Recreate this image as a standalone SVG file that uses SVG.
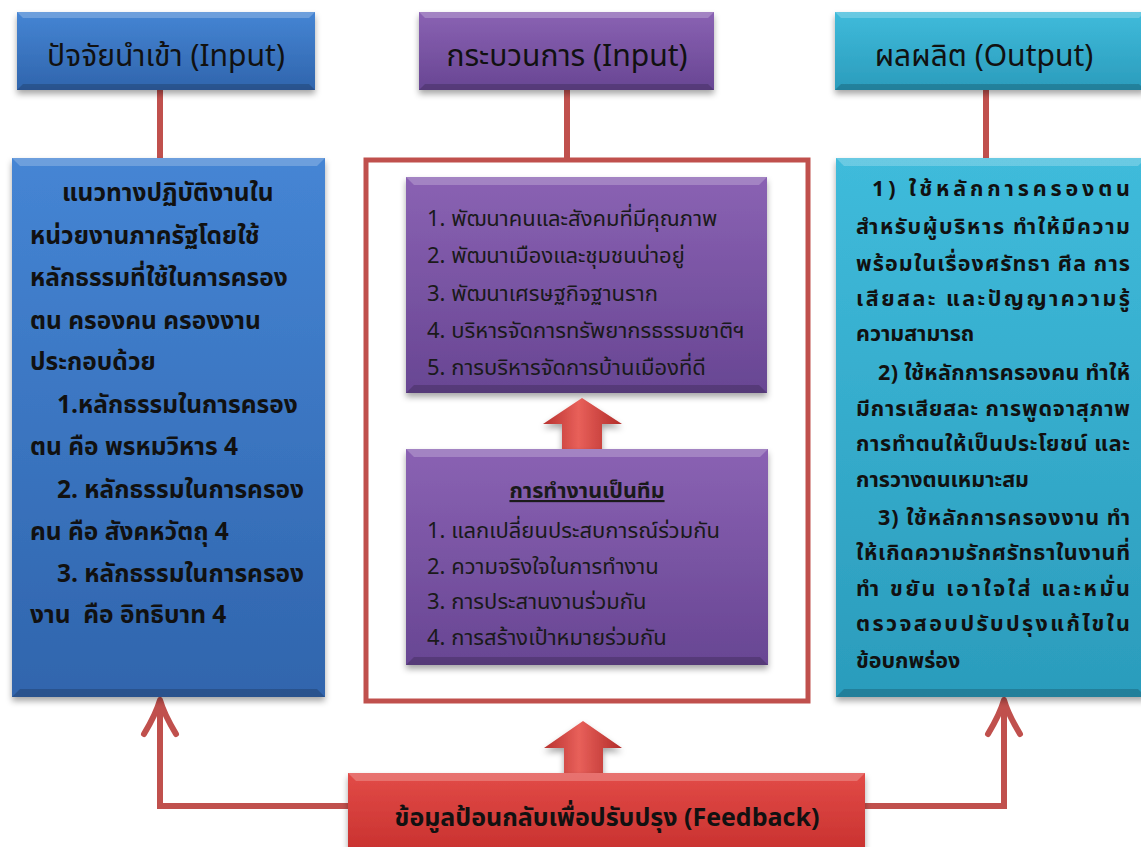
<svg xmlns="http://www.w3.org/2000/svg" width="1141" height="847" viewBox="0 0 1141 847">
<defs>
<linearGradient id="gBlue" x1="0" y1="0" x2="0" y2="1"><stop offset="0" stop-color="#4585d4"/><stop offset="1" stop-color="#3065ad"/></linearGradient>
<linearGradient id="gPurple" x1="0" y1="0" x2="0" y2="1"><stop offset="0" stop-color="#8a62b3"/><stop offset="1" stop-color="#684693"/></linearGradient>
<linearGradient id="gCyan" x1="0" y1="0" x2="0" y2="1"><stop offset="0" stop-color="#3fbbdb"/><stop offset="1" stop-color="#2b9cbc"/></linearGradient>
<linearGradient id="gRed" x1="0" y1="0" x2="0" y2="1"><stop offset="0" stop-color="#e24b47"/><stop offset="1" stop-color="#c8312f"/></linearGradient>
<linearGradient id="gArrow" x1="0" y1="0" x2="1" y2="0"><stop offset="0" stop-color="#b8322f"/><stop offset="0.45" stop-color="#e8605a"/><stop offset="1" stop-color="#b22c29"/></linearGradient>
<filter id="sh" x="-10%" y="-10%" width="120%" height="130%"><feDropShadow dx="0" dy="4" stdDeviation="3" flood-color="#000" flood-opacity="0.35"/></filter>
<marker id="openArrow" markerUnits="userSpaceOnUse" markerWidth="44" markerHeight="44" viewBox="-40 -22 44 44" refX="0" refY="0" orient="auto">
<path d="M-34,-16 Q-14,-4 0,0 Q-14,4 -34,16" fill="none" stroke="#c0504d" stroke-width="6" stroke-linejoin="round" stroke-linecap="round"/>
</marker>
</defs>
<style>
.th{font-family:"Noto Sans Thai","Leelawadee UI",Tahoma,"Noto Sans","DejaVu Sans",sans-serif;}
.hdr{font-size:30px;fill:#111;text-anchor:middle;}
.body{font-size:24.5px;font-weight:bold;fill:#111;}
.rbody{font-size:21.5px;font-weight:bold;fill:#111;}
.item{font-size:22px;fill:#1a1a1a;}
.fb{font-size:25px;font-weight:bold;fill:#111;text-anchor:middle;}
.conn{stroke:#c0504d;stroke-width:6;fill:none;}
.hi{fill:#fff;opacity:0.22;}
.lo{fill:#000;opacity:0.18;}
</style>

<g id="connectors">
<line class="conn" x1="160" y1="88" x2="160" y2="160"/>
<line class="conn" x1="567" y1="88" x2="567" y2="160"/>
<line class="conn" x1="986" y1="88" x2="986" y2="160"/>
<polyline class="conn" points="350,806 160,806 160,700" marker-end="url(#openArrow)"/>
<polyline class="conn" points="864,806 1004,806 1004,700" marker-end="url(#openArrow)"/>
</g>

<g id="header-input">
<rect x="17" y="12" width="298" height="78" fill="url(#gBlue)" filter="url(#sh)"/>
<polygon class="hi" points="17,12 315,12 309,18 23,18"/>
<polygon class="lo" points="17,90 315,90 309,84 23,84"/>
<text class="th hdr" x="166" y="66">ปัจจัยนำเข้า (Input)</text>
</g>

<g id="header-process">
<rect x="419" y="12" width="295" height="78" fill="url(#gPurple)" filter="url(#sh)"/>
<polygon class="hi" points="419,12 714,12 708,18 425,18"/>
<polygon class="lo" points="419,90 714,90 708,84 425,84"/>
<text class="th hdr" x="567" y="66">กระบวนการ (Input)</text>
</g>

<g id="header-output">
<rect x="835" y="12" width="310" height="78" fill="url(#gCyan)" filter="url(#sh)"/>
<polygon class="hi" points="835,12 1145,12 1139,18 841,18"/>
<polygon class="lo" points="835,90 1145,90 1139,84 841,84"/>
<text class="th hdr" x="984" y="66">ผลผลิต (Output)</text>
</g>

<g id="input-body">
<rect x="12" y="158" width="313" height="539" fill="url(#gBlue)" filter="url(#sh)"/>
<polygon class="hi" points="12,158 325,158 317,166 20,166"/>
<polygon class="lo" points="12,697 325,697 317,689 20,689"/>
<g class="th body">
<text x="62" y="201">แนวทางปฏิบัติงานใน</text>
<text x="30" y="244">หน่วยงานภาครัฐโดยใช้</text>
<text x="30" y="286">หลักธรรมที่ใช้ในการครอง</text>
<text x="30" y="329">ตน ครองคน ครองงาน</text>
<text x="30" y="370">ประกอบด้วย</text>
<text x="57" y="413">1.หลักธรรมในการครอง</text>
<text x="30" y="455">ตน คือ พรหมวิหาร 4</text>
<text x="57" y="498">2. หลักธรรมในการครอง</text>
<text x="30" y="540">คน คือ สังคหวัตถุ 4</text>
<text x="57" y="582">3. หลักธรรมในการครอง</text>
<text x="30" y="623" xml:space="preserve">งาน  คือ อิทธิบาท 4</text>
</g>
</g>

<g id="process-frame">
<rect x="366" y="160" width="442" height="541" fill="#fff" stroke="#c0504d" stroke-width="5"/>
</g>

<g id="process-goals">
<rect x="406" y="177" width="361" height="216" fill="url(#gPurple)" filter="url(#sh)"/>
<polygon class="hi" points="406,177 767,177 759,185 414,185"/>
<polygon class="lo" points="406,393 767,393 759,385 414,385"/>
<g class="th item">
<text x="427" y="226">1. พัฒนาคนและสังคมที่มีคุณภาพ</text>
<text x="427" y="263">2. พัฒนาเมืองและชุมชนน่าอยู่</text>
<text x="427" y="301">3. พัฒนาเศรษฐกิจฐานราก</text>
<text x="427" y="338">4. บริหารจัดการทรัพยากรธรรมชาติฯ</text>
<text x="427" y="375">5. การบริหารจัดการบ้านเมืองที่ดี</text>
</g>
</g>

<g id="up-arrow-1">
<polygon points="582,398 622,424 602,424 602,450 562,450 562,424 543,424" fill="url(#gArrow)" filter="url(#sh)"/>
</g>

<g id="process-teamwork">
<rect x="406" y="449" width="362" height="216" fill="url(#gPurple)" filter="url(#sh)"/>
<polygon class="hi" points="406,449 768,449 760,457 414,457"/>
<polygon class="lo" points="406,665 768,665 760,657 414,657"/>
<g class="th item">
<text x="587" y="498" text-anchor="middle" font-size="21.5" font-weight="bold" text-decoration="underline">การทำงานเป็นทีม</text>
<text x="427" y="538">1. แลกเปลี่ยนประสบการณ์ร่วมกัน</text>
<text x="427" y="574">2. ความจริงใจในการทำงาน</text>
<text x="427" y="609">3. การประสานงานร่วมกัน</text>
<text x="427" y="645">4. การสร้างเป้าหมายร่วมกัน</text>
</g>
</g>

<g id="output-body">
<rect x="836" y="158" width="310" height="539" fill="url(#gCyan)" filter="url(#sh)"/>
<polygon class="hi" points="836,158 1146,158 1138,166 844,166"/>
<polygon class="lo" points="836,697 1146,697 1138,689 844,689"/>
<g class="th rbody">
<text x="872" y="196" textLength="258" lengthAdjust="spacing">1) ใช้หลักการครองตน</text>
<text x="856" y="234" textLength="274" lengthAdjust="spacing">สำหรับผู้บริหาร ทำให้มีความ</text>
<text x="856" y="271" textLength="274" lengthAdjust="spacing">พร้อมในเรื่องศรัทธา ศีล การ</text>
<text x="856" y="306" textLength="274" lengthAdjust="spacing">เสียสละ และปัญญาความรู้</text>
<text x="856" y="341">ความสามารถ</text>
<text x="878" y="380" textLength="252" lengthAdjust="spacing">2) ใช้หลักการครองคน ทำให้</text>
<text x="856" y="416" textLength="274" lengthAdjust="spacing">มีการเสียสละ การพูดจาสุภาพ</text>
<text x="856" y="451" textLength="274" lengthAdjust="spacing">การทำตนให้เป็นประโยชน์ และ</text>
<text x="856" y="487">การวางตนเหมาะสม</text>
<text x="878" y="525" textLength="252" lengthAdjust="spacing">3) ใช้หลักการครองงาน ทำ</text>
<text x="856" y="560" textLength="274" lengthAdjust="spacing">ให้เกิดความรักศรัทธาในงานที่</text>
<text x="856" y="596" textLength="274" lengthAdjust="spacing">ทำ ขยัน เอาใจใส่ และหมั่น</text>
<text x="856" y="631" textLength="274" lengthAdjust="spacing">ตรวจสอบปรับปรุงแก้ไขใน</text>
<text x="856" y="668">ข้อบกพร่อง</text>
</g>
</g>

<g id="up-arrow-2">
<polygon points="583,721 622,748 603,748 603,775 564,775 564,748 544,748" fill="url(#gArrow)" filter="url(#sh)"/>
</g>

<g id="feedback">
<rect x="348" y="773" width="517" height="80" fill="url(#gRed)" filter="url(#sh)"/>
<polygon class="hi" points="348,773 865,773 857,781 356,781"/>
<text class="th fb" x="607" y="826">ข้อมูลป้อนกลับเพื่อปรับปรุง (Feedback)</text>
</g>
</svg>
